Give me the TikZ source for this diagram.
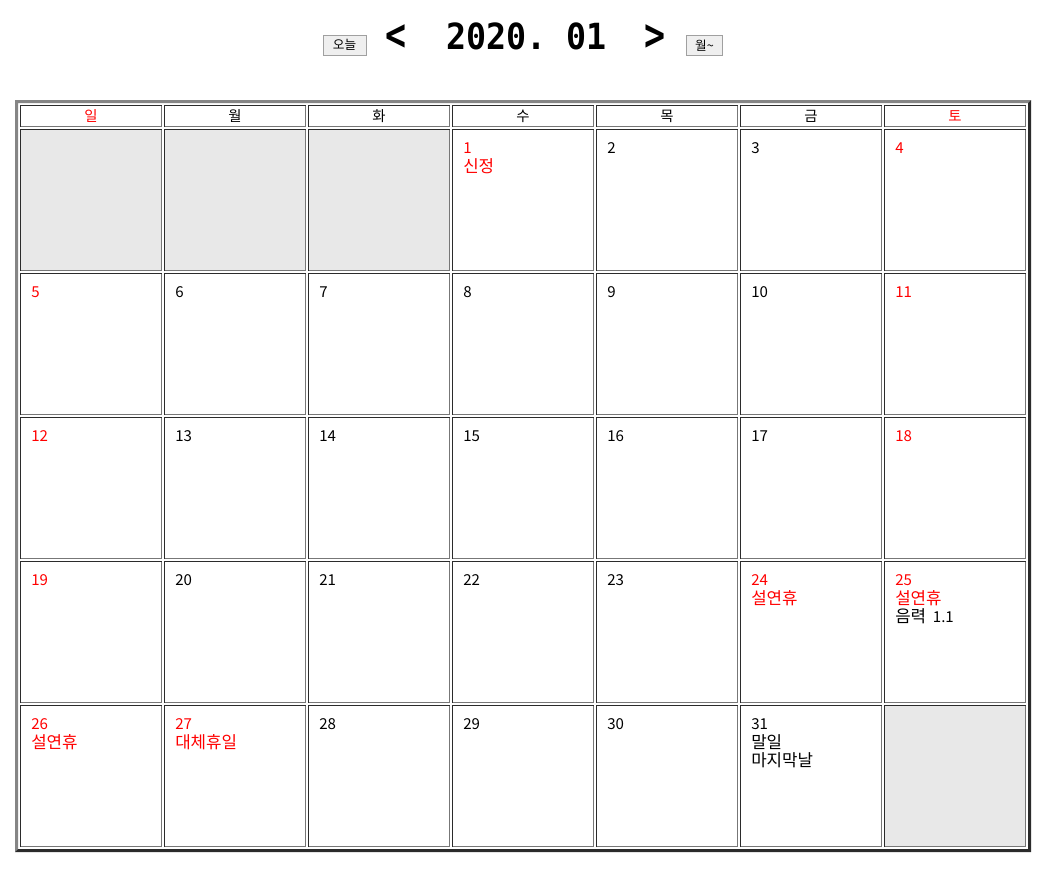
\documentclass[tikz,border=0pt]{standalone}
\usepackage{fontspec}
\newfontfamily\kr{Noto Sans CJK KR}
\newfontfamily\monofnt{DejaVu Sans Mono}
\newcommand\hg[1]{{\fontsize{12.6pt}{14pt}\selectfont #1}}
\definecolor{dark}{HTML}{2B2B2B}
\definecolor{lgray}{HTML}{858585}
\definecolor{cellin}{HTML}{777777}
\definecolor{emptyc}{HTML}{E8E8E8}
\definecolor{btnfill}{HTML}{EFEFEF}
\definecolor{btnline}{HTML}{A0A0A0}
\definecolor{hred}{HTML}{FF0000}
\tikzset{
  daynum/.style={anchor=base west, inner sep=0pt, font=\kr\fontsize{11.3pt}{13pt}\selectfont},
  hdr/.style={anchor=base, inner sep=0pt, font=\kr\fontsize{10.8pt}{12pt}\selectfont},
  ttl/.style={anchor=base, inner sep=0pt, font=\monofnt\bfseries\fontsize{25pt}{28pt}\selectfont},
  chev/.style={anchor=center, inner sep=0pt, font=\monofnt\bfseries\fontsize{25pt}{28pt}\selectfont},
  btn/.style={draw=btnline, fill=btnfill, line width=0.75pt, inner sep=0pt, font=\kr\fontsize{9.5pt}{11pt}\selectfont},
  thin/.style={line width=0.75pt}
}
\begin{document}
\begin{tikzpicture}[x=0.75pt,y=-0.75pt]
\useasboundingbox (0,0) rectangle (1050,872);
\fill[white] (0,0) rectangle (1050,872);
% top bar
\node[btn, minimum width=32.25pt, minimum height=15pt] (today) at (344.5,45) {오늘};
\node[btn, minimum width=27pt, minimum height=15.5pt] (mon) at (704.5,45.5) {월\textasciitilde};
\node[chev] (prev) at (396,38) {\scalebox{1.05}[1.35]{<}};
\node[ttl] (title) at (526.5,49) {\scalebox{1}[1.08]{2020.\ 01}};
\node[chev] (next) at (655,38) {\scalebox{1.05}[1.35]{>}};
% outer table border (outset)
\fill[lgray] (15,100) -- (1031,100) -- (1028,103) -- (18,103) -- (18,849) -- (15,852) -- cycle;
\fill[dark] (1031,100) -- (1031,852) -- (15,852) -- (18,849) -- (1028,849) -- (1028,103) -- cycle;
% header cells
\foreach \c in {0,...,6} {
  \pgfmathsetmacro\xa{20+144*\c}
  \fill[white] (\xa,105) rectangle ({\xa+142},127);
  \draw[thin,dark] (\xa+0.5,127) -- (\xa+0.5,105.5) -- ({\xa+142},105.5);
  \draw[thin,cellin] (\xa+1,126.5) -- ({\xa+141.5},126.5) -- ({\xa+141.5},105.5);
}
\foreach \c/\t/\col [count=\i] in {0/일/hred,1/월/black,2/화/black,3/수/black,4/목/black,5/금/black,6/토/hred}
  \node[hdr, text=\col] (h\i) at ({91+144*\c},121) {\t};
% body cells
\foreach \r in {0,...,4} {
  \foreach \c in {0,...,6} {
    \pgfmathsetmacro\xa{20+144*\c}
    \pgfmathsetmacro\ya{129+144*\r}
    \fill[white] (\xa,\ya) rectangle ({\xa+142},{\ya+142});
    \draw[thin,dark] (\xa+0.5,{\ya+142}) -- (\xa+0.5,\ya+0.5) -- ({\xa+142},\ya+0.5);
    \draw[thin,cellin] (\xa+1,{\ya+141.5}) -- ({\xa+141.5},{\ya+141.5}) -- ({\xa+141.5},\ya+0.5);
  }
}
% empty cells
\foreach \c/\r in {0/0,1/0,2/0,6/4} {
  \pgfmathsetmacro\xa{20+144*\c}
  \pgfmathsetmacro\ya{129+144*\r}
  \fill[emptyc] (\xa+1,\ya+1) rectangle ({\xa+141},{\ya+141});
}
% day numbers
\foreach \c/\r/\n/\col in {3/0/1/hred,4/0/2/black,5/0/3/black,6/0/4/hred,
  0/1/5/hred,1/1/6/black,2/1/7/black,3/1/8/black,4/1/9/black,5/1/10/black,6/1/11/hred,
  0/2/12/hred,1/2/13/black,2/2/14/black,3/2/15/black,4/2/16/black,5/2/17/black,6/2/18/hred,
  0/3/19/hred,1/3/20/black,2/3/21/black,3/3/22/black,4/3/23/black,5/3/24/hred,6/3/25/hred,
  0/4/26/hred,1/4/27/hred,2/4/28/black,3/4/29/black,4/4/30/black,5/4/31/black}
  \node[daynum, text=\col] (d\n) at ({31+144*\c},{153.5+144*\r}) {\n};
% extra lines
\node[daynum, text=hred] (e1) at (463,172) {\hg{신정}};
\node[daynum, text=hred] (e24) at (751,604) {\hg{설연휴}};
\node[daynum, text=hred] (e25) at (895,604) {\hg{설연휴}};
\node[daynum] (f25) at (895,622) {\hg{음력}\ \ 1.1};
\node[daynum, text=hred] (e26) at (31,748) {\hg{설연휴}};
\node[daynum, text=hred] (e27) at (175,748) {\hg{대체휴일}};
\node[daynum] (e31) at (751,748) {\hg{말일}};
\node[daynum] (f31) at (751,766) {\hg{마지막날}};
\end{tikzpicture}
\end{document}
